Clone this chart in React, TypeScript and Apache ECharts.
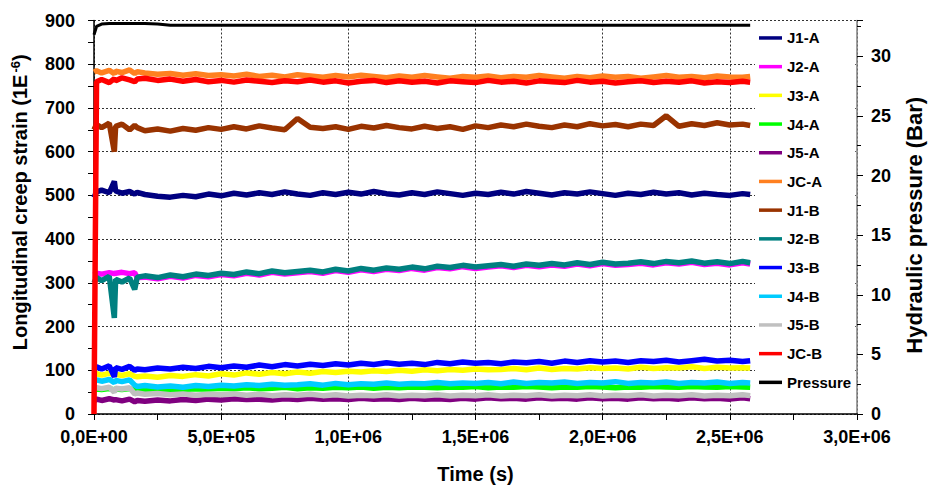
import React, { useEffect, useRef } from "react";
import * as echarts from "echarts";

const seriesNames = ["J1-A", "J2-A", "J3-A", "J4-A", "J5-A", "JC-A", "J1-B", "J2-B", "J3-B", "J4-B", "J5-B", "JC-B", "Pressure"];
const seriesColors = ["#000080", "#FF00FF", "#FFFF00", "#00FF00", "#800080", "#FF8020", "#993300", "#008080", "#0000FF", "#00CCFF", "#C0C0C0", "#FF0000", "#000000"];

const timeS = [
  0, 1e4, 3e4, 6e4, 8e4, 8.5e4, 1.1e5, 1.4e5, 1.6e5, 1.7e5,
  2e5, 2.5e5, 3e5, 3.5e5, 4e5, 4.5e5, 5e5, 5.5e5, 6e5, 6.5e5,
  7e5, 7.5e5, 8e5, 8.5e5, 9e5, 9.5e5, 1e6, 1.05e6, 1.1e6, 1.15e6,
  1.2e6, 1.25e6, 1.3e6, 1.35e6, 1.4e6, 1.45e6, 1.5e6, 1.55e6, 1.6e6, 1.65e6,
  1.7e6, 1.75e6, 1.8e6, 1.85e6, 1.9e6, 1.95e6, 2e6, 2.05e6, 2.1e6, 2.15e6,
  2.2e6, 2.25e6, 2.3e6, 2.35e6, 2.4e6, 2.45e6, 2.5e6, 2.55e6, 2.58e6,
];

const j1a = [
  495, 508, 512, 506, 532, 510, 505, 509, 503, 507,
  502, 498, 496, 500, 497, 503, 499, 505, 501, 506,
  502, 508, 503, 500, 506, 502, 507, 503, 509, 504,
  501, 506, 502, 508, 504, 500, 505, 502, 507, 503,
  509, 505, 501, 506, 503, 508, 504, 500, 505, 502,
  507, 503, 506, 501, 505, 502, 500, 504, 502,
];
const j2a = [
  318, 322, 320, 323, 321, 322, 324, 321, 323, 312,
  313, 309, 315, 311, 317, 314, 319, 316, 322, 318,
  324, 320, 323, 326, 322, 328, 324, 330, 326, 331,
  328, 333, 329, 335, 332, 337, 333, 336, 339, 335,
  340, 337, 341, 338, 343, 339, 344, 340, 342, 345,
  341, 346, 343, 347, 342, 345, 341, 346, 343,
];
const j3a = [
  88, 92, 89, 93, 90, 91, 88, 92, 86, 85,
  87, 84, 88, 86, 90, 87, 92, 89, 94, 91,
  95, 92, 96, 93, 97, 95, 98, 96, 99, 97,
  100, 98, 101, 99, 102, 100, 103, 101, 102, 104,
  101, 105, 102, 104, 103, 106, 104, 105, 103, 107,
  104, 106, 105, 108, 104, 107, 105, 106, 105,
];
const j4a = [
  55, 57, 56, 58, 55, 57, 56, 58, 55, 54,
  56, 55, 57, 56, 58, 57, 59, 58, 60, 58,
  59, 61, 58, 60, 59, 61, 60, 62, 59, 61,
  60, 62, 61, 60, 62, 61, 63, 60, 62, 61,
  63, 62, 60, 62, 61, 63, 62, 60, 62, 61,
  63, 62, 61, 63, 62, 61, 63, 62, 61,
];
const j5a = [
  30, 34, 31, 35, 32, 33, 30, 34, 28, 31,
  29, 32, 30, 33, 31, 34, 32, 35, 33, 34,
  32, 35, 33, 36, 34, 35, 33, 36, 34, 35,
  33, 36, 34, 35, 33, 36, 34, 37, 35, 36,
  34, 37, 35, 36, 34, 37, 35, 36, 34, 37,
  35, 36, 34, 37, 35, 36, 34, 37, 35,
];
const jca = [
  782, 785, 780, 786, 778, 784, 781, 787, 779, 783,
  780, 777, 779, 775, 778, 774, 776, 773, 777, 772,
  775, 771, 776, 773, 770, 774, 771, 775, 772, 769,
  773, 770, 774, 771, 768, 772, 770, 773, 769, 772,
  770, 774, 771, 768, 772, 769, 773, 770, 772, 768,
  771, 774, 770, 772, 769, 773, 771, 770, 772,
];
const j1b = [
  650, 662, 655, 665, 600, 658, 663, 650, 660, 655,
  648, 652, 647, 653, 649, 655, 651, 657, 652, 659,
  654, 650, 676, 656, 653, 657, 651, 658, 654, 660,
  655, 652, 658, 653, 657, 651, 659, 655, 661, 657,
  663, 658, 655, 661, 657, 664, 659, 662, 657, 663,
  660, 682, 658, 664, 660, 666, 661, 663, 660,
];
const j2b = [
  300, 312, 305, 315, 220, 308, 302, 311, 285, 313,
  316, 312, 318, 314, 320, 317, 322, 319, 325, 321,
  327, 323, 326, 329, 325, 331, 327, 333, 329, 334,
  331, 336, 332, 338, 335, 340, 336, 339, 342, 338,
  343, 340, 344, 341, 346, 342, 347, 343, 345, 348,
  344, 349, 346, 350, 345, 348, 344, 349, 346,
];
const j3b = [
  100, 108, 103, 110, 85, 106, 102, 109, 100, 103,
  101, 105, 103, 107, 104, 109, 106, 110, 107, 112,
  108, 113, 110, 114, 111, 115, 112, 116, 113, 117,
  114, 116, 113, 118, 115, 119, 116, 118, 115, 119,
  117, 120, 116, 121, 118, 122, 119, 121, 118, 122,
  120, 123, 119, 122, 125, 121, 123, 120, 122,
];
const j4b = [
  80, 78, 75, 79, 72, 77, 74, 78, 66, 63,
  65, 62, 64, 61, 65, 63, 66, 64, 67, 65,
  68, 66, 67, 69, 66, 70, 67, 69, 68, 71,
  68, 70, 69, 72, 69, 71, 70, 72, 69, 73,
  70, 72, 71, 73, 70, 72, 71, 74, 70, 72,
  71, 73, 70, 72, 71, 73, 70, 72, 71,
];
const j5b = [
  62, 60, 58, 61, 50, 59, 57, 60, 46, 48,
  45, 47, 44, 46, 43, 45, 44, 46, 43, 45,
  42, 44, 43, 45, 42, 44, 41, 43, 42, 44,
  41, 43, 42, 44, 41, 43, 42, 44, 41, 43,
  42, 44, 41, 43, 42, 44, 41, 43, 42, 44,
  41, 43, 42, 44, 41, 43, 42, 44, 42,
];
const jcb = [
  0, 760, 765, 758, 767, 762, 769, 764, 760, 766,
  768, 763, 766, 761, 765, 760, 763, 759, 764, 761,
  758, 762, 760, 764, 759, 762, 757, 761, 763, 758,
  762, 759, 761, 757, 762, 760, 758, 763, 759, 761,
  757, 762, 760, 758, 763, 759, 761, 757, 760, 762,
  758, 761, 759, 762, 757, 760, 758, 761, 759,
];
const pressureBar = [
  31.8, 32.5, 32.7, 32.75, 32.75, 32.75, 32.75, 32.75, 32.75, 32.75,
  32.75, 32.7, 32.6, 32.6, 32.6, 32.6, 32.6, 32.6, 32.6, 32.6,
  32.6, 32.6, 32.6, 32.6, 32.6, 32.6, 32.6, 32.6, 32.6, 32.6,
  32.6, 32.6, 32.6, 32.6, 32.6, 32.6, 32.6, 32.6, 32.6, 32.6,
  32.6, 32.6, 32.6, 32.6, 32.6, 32.6, 32.6, 32.6, 32.6, 32.6,
  32.6, 32.6, 32.6, 32.6, 32.6, 32.6, 32.6, 32.6, 32.6,
];

const seriesValues = [j1a, j2a, j3a, j4a, j5a, jca, j1b, j2b, j3b, j4b, j5b, jcb, pressureBar];

const fmtX = (v: number) => {
  const [m, e] = v.toExponential(1).split("e");
  return m.replace(".", ",") + "E" + e[0] + e.slice(1).padStart(2, "0");
};

const FONT = "Liberation Sans, Arial, sans-serif";

export default function App() {
  const ref = useRef<HTMLDivElement>(null);
  useEffect(() => {
    if (!ref.current) return;
    const chart = echarts.init(ref.current, null, { renderer: "svg" });
    const series = seriesNames.map((name, i) => {
      const vals = seriesValues[i];
      const n = Math.min(vals.length, timeS.length);
      const data = [];
      for (let k = 0; k < n; k++) data.push([timeS[k], vals[k]]);
      return {
        name,
        type: "line",
        yAxisIndex: name === "Pressure" ? 1 : 0,
        showSymbol: false,
        symbol: "none",
        data,
        lineStyle: { color: seriesColors[i], width: name === "Pressure" ? 3 : 5.5 },
        itemStyle: { color: seriesColors[i] },
        z: 2,
      };
    });
    const labelStyle = { color: "#000", fontFamily: FONT, fontWeight: "bold", fontSize: 18 };
    chart.setOption({
      animation: false,
      backgroundColor: "#fff",
      textStyle: { fontFamily: FONT },
      grid: { left: 94, right: 73, top: 20.5, bottom: 71, containLabel: false, outerBoundsMode: "none" },
      legend: {
        orient: "vertical",
        left: 755,
        top: 21.6,
        padding: [2, 4, 2, 4],
        itemGap: 0,
        itemWidth: 23,
        itemHeight: 3.5,
        icon: "rect",
        backgroundColor: "#fff",
        data: seriesNames,
        textStyle: { color: "#000", fontFamily: FONT, fontWeight: "bold", fontSize: 15, lineHeight: 28.7 },
        z: 5,
      },
      xAxis: {
        type: "value",
        min: 0,
        max: 3e6,
        interval: 5e5,
        name: "Time (s)",
        nameLocation: "middle",
        nameGap: 50,
        nameTextStyle: { color: "#000", fontFamily: FONT, fontWeight: "bold", fontSize: 20 },
        axisLine: { show: true, onZero: false, lineStyle: { color: "#000", width: 1.5 } },
        axisTick: { show: true, length: 6, lineStyle: { color: "#000" } },
        minorTick: { show: true, splitNumber: 2, length: 6, lineStyle: { color: "#000" } },
        axisLabel: { ...labelStyle, margin: 14, formatter: fmtX },
        splitLine: { show: true, lineStyle: { color: "#333", type: [2, 2], width: 1 } },
      },
      yAxis: [
        {
          type: "value",
          min: 0,
          max: 900,
          interval: 100,
          name: "Longitudinal creep strain (1E{sup|-6})",
          nameLocation: "middle",
          nameGap: 63,
          nameTextStyle: {
            color: "#000", fontFamily: FONT, fontWeight: "bold", fontSize: 20,
            padding: [0, 0, 0, 30],
            rich: { sup: { fontSize: 13, fontWeight: "bold", fontFamily: FONT, color: "#000", verticalAlign: "top", padding: [0, 0, 9, 2] } },
          },
          axisLine: { show: true, lineStyle: { color: "#000", width: 1.5 } },
          axisTick: { show: true, length: 6, lineStyle: { color: "#000" } },
          minorTick: { show: true, splitNumber: 2, length: 6, lineStyle: { color: "#000" } },
          axisLabel: { ...labelStyle, margin: 19 },
          splitLine: { show: true, lineStyle: { color: "#333", type: [2, 2], width: 1 } },
        },
        {
          type: "value",
          min: 0,
          max: 33,
          interval: 5,
          position: "right",
          name: "Hydraulic pressure (Bar)",
          nameLocation: "middle",
          nameRotate: 90,
          nameGap: 46,
          nameTextStyle: { color: "#000", fontFamily: FONT, fontWeight: "bold", fontSize: 22, padding: [0, 16, 0, 0] },
          axisLine: { show: true, lineStyle: { color: "#808080", width: 1.5 } },
          axisTick: { show: true, length: 6, lineStyle: { color: "#000" } },
          minorTick: { show: true, splitNumber: 2, length: 4, lineStyle: { color: "#000" } },
          axisLabel: { ...labelStyle, margin: 14, formatter: (v: number) => (v % 5 === 0 ? String(v) : "") },
          splitLine: { show: false },
        },
      ],
      series,
    });
    return () => chart.dispose();
  }, []);
  return <div ref={ref} style={{ position: "fixed", left: 0, top: 0, width: 930, height: 485 }} />;
}
